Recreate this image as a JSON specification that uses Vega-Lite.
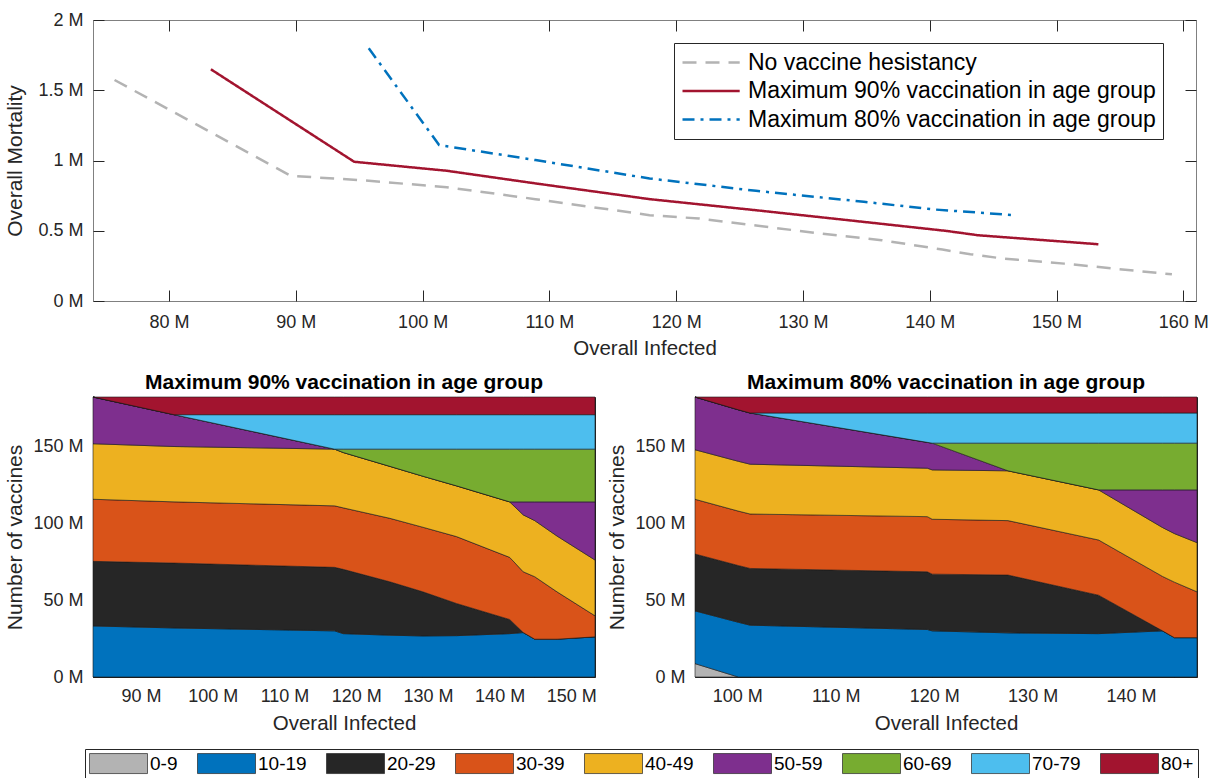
{
  "$schema": "https://vega.github.io/schema/vega-lite/v6.json",
  "background": "white",
  "padding": {"left": 3, "top": 10, "right": 5, "bottom": 0},
  "config": {
    "font": "Liberation Sans",
    "view": {"stroke": "#262626", "strokeWidth": 1},
    "axis": {"grid": false, "domain": false, "labelFontSize": 18, "titleFontSize": 20.5, "titleFontWeight": "normal", "labelColor": "#262626", "titleColor": "#262626", "tickColor": "#262626", "labelFont": "Liberation Sans", "titleFont": "Liberation Sans"},
    "legend": {"labelFont": "Liberation Sans", "labelColor": "black"}
  },
  "spacing": 13,
  "resolve": {"scale": {"color": "independent", "strokeDash": "independent", "x": "independent", "y": "independent"}, "legend": {"color": "independent", "strokeDash": "independent"}},
  "vconcat": [
    {
      "width": 1103,
      "height": 281,
      "view": {"stroke": "#808080"},
      "data": {"values": [
        {"series": "No vaccine hesistancy", "inf": 75.7, "mort": 1.573},
        {"series": "No vaccine hesistancy", "inf": 89.6, "mort": 0.891},
        {"series": "No vaccine hesistancy", "inf": 95.1, "mort": 0.86},
        {"series": "No vaccine hesistancy", "inf": 101.9, "mort": 0.81},
        {"series": "No vaccine hesistancy", "inf": 108.9, "mort": 0.725},
        {"series": "No vaccine hesistancy", "inf": 117.9, "mort": 0.611},
        {"series": "No vaccine hesistancy", "inf": 121.8, "mort": 0.587},
        {"series": "No vaccine hesistancy", "inf": 126.3, "mort": 0.537},
        {"series": "No vaccine hesistancy", "inf": 131.4, "mort": 0.48},
        {"series": "No vaccine hesistancy", "inf": 136.2, "mort": 0.433},
        {"series": "No vaccine hesistancy", "inf": 141.0, "mort": 0.366},
        {"series": "No vaccine hesistancy", "inf": 143.2, "mort": 0.333},
        {"series": "No vaccine hesistancy", "inf": 145.8, "mort": 0.302},
        {"series": "No vaccine hesistancy", "inf": 150.6, "mort": 0.266},
        {"series": "No vaccine hesistancy", "inf": 154.5, "mort": 0.231},
        {"series": "No vaccine hesistancy", "inf": 159.1, "mort": 0.19},
        {"series": "Maximum 90% vaccination in age group", "inf": 83.3, "mort": 1.649},
        {"series": "Maximum 90% vaccination in age group", "inf": 94.6, "mort": 0.991},
        {"series": "Maximum 90% vaccination in age group", "inf": 101.9, "mort": 0.927},
        {"series": "Maximum 90% vaccination in age group", "inf": 108.9, "mort": 0.837},
        {"series": "Maximum 90% vaccination in age group", "inf": 117.9, "mort": 0.725},
        {"series": "Maximum 90% vaccination in age group", "inf": 126.3, "mort": 0.646},
        {"series": "Maximum 90% vaccination in age group", "inf": 134.8, "mort": 0.563},
        {"series": "Maximum 90% vaccination in age group", "inf": 141.3, "mort": 0.499},
        {"series": "Maximum 90% vaccination in age group", "inf": 143.8, "mort": 0.468},
        {"series": "Maximum 90% vaccination in age group", "inf": 153.3, "mort": 0.404},
        {"series": "Maximum 80% vaccination in age group", "inf": 95.75, "mort": 1.799},
        {"series": "Maximum 80% vaccination in age group", "inf": 101.3, "mort": 1.11},
        {"series": "Maximum 80% vaccination in age group", "inf": 108.9, "mort": 1.003},
        {"series": "Maximum 80% vaccination in age group", "inf": 117.9, "mort": 0.872},
        {"series": "Maximum 80% vaccination in age group", "inf": 126.3, "mort": 0.784},
        {"series": "Maximum 80% vaccination in age group", "inf": 134.8, "mort": 0.706},
        {"series": "Maximum 80% vaccination in age group", "inf": 140.4, "mort": 0.651},
        {"series": "Maximum 80% vaccination in age group", "inf": 146.7, "mort": 0.611}
      ]},
      "layer": [
        {
          "mark": {"type": "line", "strokeWidth": 2.5},
          "encoding": {
            "x": {"field": "inf", "type": "quantitative", "scale": {"domain": [74, 161], "nice": false, "zero": false},
              "axis": {"orient": "bottom", "values": [80, 90, 100, 110, 120, 130, 140, 150, 160], "labelExpr": "datum.value + ' M'", "title": "Overall Infected", "tickSize": -11, "labelPadding": 23, "titlePadding": 7}},
            "y": {"field": "mort", "type": "quantitative", "scale": {"domain": [0, 2], "nice": false},
              "axis": {"orient": "left", "values": [0, 0.5, 1, 1.5, 2], "labelExpr": "datum.value + ' M'", "title": "Overall Mortality", "titleFontSize": 21, "tickSize": -11, "labelPadding": 21, "minExtent": 60, "maxExtent": 60, "titlePadding": 8}},
            "color": {"field": "series", "type": "nominal",
              "scale": {"domain": ["No vaccine hesistancy", "Maximum 90% vaccination in age group", "Maximum 80% vaccination in age group"], "range": ["#b3b3b3", "#a2142f", "#0072bd"]},
              "legend": {"orient": "none", "legendX": 581, "legendY": 23, "title": null, "strokeColor": "#262626", "fillColor": "white", "padding": 7, "labelFontSize": 23, "symbolType": "M-1,0H4.2", "symbolSize": 484, "symbolStrokeWidth": 2.5, "labelOffset": 42, "rowPadding": 3.5, "labelLimit": 0,
                "encode": {"symbols": {"update": {"strokeDash": {"signal": "datum.value === 'No vaccine hesistancy' ? [14, 9] : (datum.value === 'Maximum 80% vaccination in age group' ? [12, 6, 3, 6] : [1, 0])"}}}}}},
            "strokeDash": {"field": "series", "type": "nominal",
              "scale": {"domain": ["No vaccine hesistancy", "Maximum 90% vaccination in age group", "Maximum 80% vaccination in age group"], "range": [[14, 9], [1, 0], [12, 6, 3, 6]]},
              "legend": null}
          }
        },
        {
          "mark": {"type": "line", "opacity": 0},
          "encoding": {
            "x": {"field": "inf", "type": "quantitative", "scale": {"domain": [74, 161], "nice": false, "zero": false},
              "axis": {"orient": "top", "values": [80, 90, 100, 110, 120, 130, 140, 150, 160], "labels": false, "title": null, "tickSize": -11}},
            "y": {"field": "mort", "type": "quantitative", "scale": {"domain": [0, 2], "nice": false},
              "axis": {"orient": "right", "values": [0, 0.5, 1, 1.5, 2], "labels": false, "title": null, "tickSize": -11}},
            "detail": {"field": "series"}
          }
        }
      ],
      "resolve": {"axis": {"x": "independent", "y": "independent"}}
    },
    {
      "data": {"values": [
        {"s": "Maximum 90% vaccination in age group", "x": 83.3, "0-9": 0, "10-19": 33.2, "20-29": 42.0, "30-39": 40.4, "40-49": 36.1, "50-59": 30.4, "60-69": 0, "70-79": 0, "80+": 0},
        {"s": "Maximum 90% vaccination in age group", "x": 94.6, "0-9": 0, "10-19": 31.9, "20-29": 42.2, "30-39": 39.8, "40-49": 36.0, "50-59": 20.7, "60-69": 0, "70-79": 0, "80+": 11.5},
        {"s": "Maximum 90% vaccination in age group", "x": 117.0, "0-9": 0, "10-19": 30.0, "20-29": 41.3, "30-39": 40.0, "40-49": 36.9, "50-59": 0, "60-69": 0, "70-79": 22.4, "80+": 11.5},
        {"s": "Maximum 90% vaccination in age group", "x": 118.2, "0-9": 0, "10-19": 28.2, "20-29": 41.8, "30-39": 40.0, "40-49": 36.0, "50-59": 0, "60-69": 2.2, "70-79": 22.4, "80+": 11.5},
        {"s": "Maximum 90% vaccination in age group", "x": 124.7, "0-9": 0, "10-19": 27.2, "20-29": 34.7, "30-39": 41.3, "40-49": 33.8, "50-59": 0, "60-69": 11.2, "70-79": 22.4, "80+": 11.5},
        {"s": "Maximum 90% vaccination in age group", "x": 129.3, "0-9": 0, "10-19": 26.7, "20-29": 28.7, "30-39": 42.0, "40-49": 33.2, "50-59": 0, "60-69": 17.6, "70-79": 22.4, "80+": 11.5},
        {"s": "Maximum 90% vaccination in age group", "x": 134.0, "0-9": 0, "10-19": 26.9, "20-29": 20.9, "30-39": 43.5, "40-49": 33.0, "50-59": 0, "60-69": 23.9, "70-79": 22.4, "80+": 11.5},
        {"s": "Maximum 90% vaccination in age group", "x": 141.4, "0-9": 0, "10-19": 28.2, "20-29": 9.2, "30-39": 40.4, "40-49": 36.1, "50-59": 0, "60-69": 34.3, "70-79": 22.4, "80+": 11.5},
        {"s": "Maximum 90% vaccination in age group", "x": 143.3, "0-9": 0, "10-19": 28.9, "20-29": 0, "30-39": 39.5, "40-49": 37.0, "50-59": 8.5, "60-69": 34.3, "70-79": 22.4, "80+": 11.5},
        {"s": "Maximum 90% vaccination in age group", "x": 144.9, "0-9": 0, "10-19": 24.6, "20-29": 0, "30-39": 40.6, "40-49": 36.5, "50-59": 12.2, "60-69": 34.3, "70-79": 22.4, "80+": 11.5},
        {"s": "Maximum 90% vaccination in age group", "x": 148.0, "0-9": 0, "10-19": 24.6, "20-29": 0, "30-39": 30.8, "40-49": 36.3, "50-59": 22.2, "60-69": 34.3, "70-79": 22.4, "80+": 11.5},
        {"s": "Maximum 90% vaccination in age group", "x": 153.3, "0-9": 0, "10-19": 26.1, "20-29": 0, "30-39": 13.7, "40-49": 36.3, "50-59": 37.8, "60-69": 34.3, "70-79": 22.4, "80+": 11.5},
        {"s": "Maximum 80% vaccination in age group", "x": 95.7, "0-9": 8.7, "10-19": 34.3, "20-29": 37.0, "30-39": 35.6, "40-49": 32.2, "50-59": 34.3, "60-69": 0, "70-79": 0, "80+": 0},
        {"s": "Maximum 80% vaccination in age group", "x": 100.1, "0-9": 0, "10-19": 35.6, "20-29": 36.9, "30-39": 35.4, "40-49": 32.4, "50-59": 33.5, "60-69": 0, "70-79": 0, "80+": 8.3},
        {"s": "Maximum 80% vaccination in age group", "x": 101.3, "0-9": 0, "10-19": 33.7, "20-29": 36.9, "30-39": 35.4, "40-49": 32.4, "50-59": 33.3, "60-69": 0, "70-79": 0, "80+": 10.4},
        {"s": "Maximum 80% vaccination in age group", "x": 119.3, "0-9": 0, "10-19": 30.9, "20-29": 37.5, "30-39": 35.9, "40-49": 31.5, "50-59": 16.8, "60-69": 0, "70-79": 19.1, "80+": 10.4},
        {"s": "Maximum 80% vaccination in age group", "x": 119.8, "0-9": 0, "10-19": 30.0, "20-29": 36.9, "30-39": 35.7, "40-49": 32.1, "50-59": 17.4, "60-69": 0, "70-79": 19.6, "80+": 10.4},
        {"s": "Maximum 80% vaccination in age group", "x": 127.5, "0-9": 0, "10-19": 28.7, "20-29": 37.6, "30-39": 35.4, "40-49": 32.4, "50-59": 0, "60-69": 18.0, "70-79": 19.6, "80+": 10.4},
        {"s": "Maximum 80% vaccination in age group", "x": 136.7, "0-9": 0, "10-19": 28.2, "20-29": 25.0, "30-39": 35.9, "40-49": 32.6, "50-59": 0, "60-69": 30.4, "70-79": 19.6, "80+": 10.4},
        {"s": "Maximum 80% vaccination in age group", "x": 143.2, "0-9": 0, "10-19": 30.0, "20-29": 0, "30-39": 35.4, "40-49": 31.8, "50-59": 24.5, "60-69": 30.4, "70-79": 19.6, "80+": 10.4},
        {"s": "Maximum 80% vaccination in age group", "x": 144.4, "0-9": 0, "10-19": 25.6, "20-29": 0, "30-39": 36.1, "40-49": 31.6, "50-59": 28.4, "60-69": 30.4, "70-79": 19.6, "80+": 10.4},
        {"s": "Maximum 80% vaccination in age group", "x": 146.7, "0-9": 0, "10-19": 25.6, "20-29": 0, "30-39": 29.8, "40-49": 32.0, "50-59": 34.3, "60-69": 30.4, "70-79": 19.6, "80+": 10.4}
      ]},
      "transform": [{"fold": ["0-9", "10-19", "20-29", "30-39", "40-49", "50-59", "60-69", "70-79", "80+"], "as": ["group", "vac"]}],
      "facet": {"column": {"field": "s", "type": "nominal", "sort": ["Maximum 90% vaccination in age group", "Maximum 80% vaccination in age group"],
        "header": {"title": null, "labelFontSize": 21, "labelFontWeight": "bold", "labelColor": "black", "labelPadding": 4, "labelFont": "Liberation Sans"}}},
      "spacing": 100,
      "bounds": "flush",
      "spec": {
        "width": 502,
        "height": 280,
        "layer": [
          {
            "mark": {"type": "area", "stroke": "#1a1a1a", "strokeWidth": 0.6},
            "encoding": {
              "x": {"field": "x", "type": "quantitative", "scale": {"zero": false, "nice": false},
                "axis": {"orient": "bottom", "tickCount": 7, "labelExpr": "datum.value + ' M'", "title": "Overall Infected", "tickSize": -5, "labelPadding": 15, "titlePadding": 8}},
              "y": {"field": "vac", "type": "quantitative", "stack": "zero", "scale": {"domain": [0, 182.1], "nice": false},
                "axis": {"orient": "left", "values": [0, 50, 100, 150], "labelExpr": "datum.value + ' M'", "title": "Number of vaccines", "titleFontSize": 21, "tickSize": -5, "labelPadding": 15, "minExtent": 60, "maxExtent": 60, "titlePadding": 8}},
              "color": {"field": "group", "type": "nominal",
                "scale": {"domain": ["0-9", "10-19", "20-29", "30-39", "40-49", "50-59", "60-69", "70-79", "80+"], "range": ["#b3b3b3", "#0072bd", "#262626", "#d95319", "#edb120", "#7e2f8e", "#77ac30", "#4dbeee", "#a2142f"]},
                "legend": {"orient": "none", "legendX": -8, "legendY": 352, "direction": "horizontal", "columns": 9, "title": null, "symbolType": "M-1,-1H4.8V1H-1Z", "symbolSize": 400, "symbolStrokeColor": "#262626", "symbolStrokeWidth": 0.7, "labelOffset": 40, "labelFontSize": 19, "columnPadding": 18, "strokeColor": "#262626", "fillColor": "white", "padding": 4}},
              "order": {"field": "group", "sort": "ascending"}
            }
          },
          {
            "mark": {"type": "line", "opacity": 0},
            "encoding": {
              "x": {"field": "x", "type": "quantitative", "scale": {"zero": false, "nice": false},
                "axis": {"orient": "top", "tickCount": 7, "labels": false, "title": null, "tickSize": -5}},
              "y": {"field": "vac", "type": "quantitative", "scale": {"domain": [0, 182.1], "nice": false},
                "axis": {"orient": "right", "values": [0, 50, 100, 150], "labels": false, "title": null, "tickSize": -5}},
              "detail": {"field": "group"}
            }
          }
        ],
        "resolve": {"axis": {"x": "independent", "y": "independent"}}
      },
      "resolve": {"scale": {"x": "independent"}, "axis": {"y": "independent"}}
    }
  ]
}
